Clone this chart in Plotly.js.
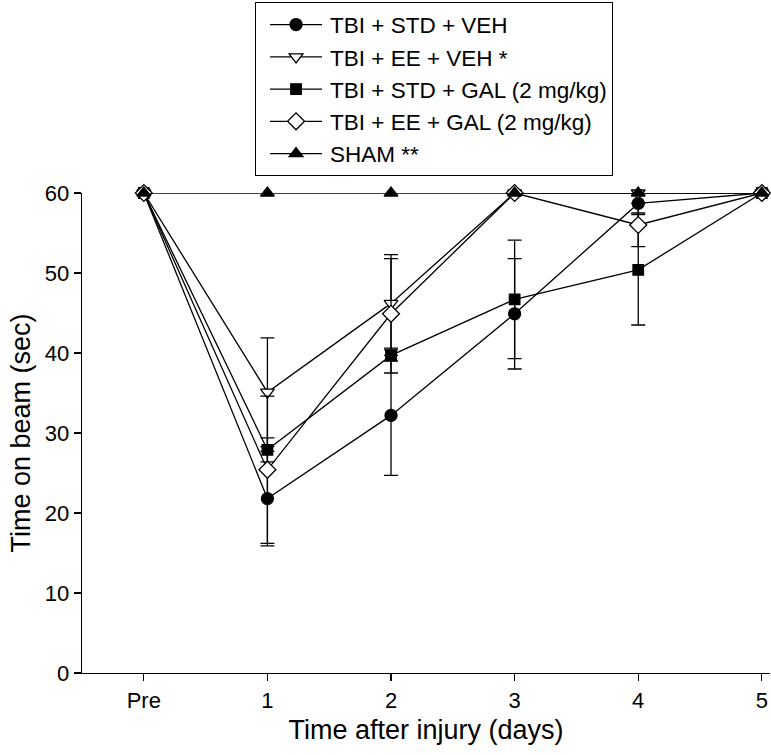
<!DOCTYPE html>
<html>
<head>
<meta charset="utf-8">
<script src="https://cdn.plot.ly/plotly-3.0.1.min.js"></script>
<style>html,body{margin:0;padding:0;background:#fff;}#chart{width:771px;height:755px;}</style>
</head>
<body>
<div id="chart"></div>
<script>
// Data
const days = ["Pre", "1", "2", "3", "4", "5"];

const stdVeh = [60, 21.8, 32.2, 44.9, 58.7, 60];
const stdVehErr = [null, 5.9, 7.5, 6.9, 1.2, null];

const eeVeh = [60, 35.1, 46.2, 60, 60, 60];
const eeVehErr = [null, 6.8, 5.6, null, null, null];

const stdGal = [60, 27.9, 39.7, 46.7, 50.4, 60];
const stdGalErr = [null, 1.5, 0.7, 7.4, 6.9, null];

const eeGal = [60, 25.4, 44.9, 60, 56.0, 60];
const eeGalErr = [null, 9.2, 7.4, null, 2.7, null];

const sham = [60, 60, 60, 60, 60, 60];

const seriesNames = [
  "TBI + STD + VEH",
  "TBI + EE + VEH *",
  "TBI + STD + GAL (2 mg/kg)",
  "TBI + EE + GAL (2 mg/kg)",
  "SHAM **"
];

const FONT = "Liberation Sans, Arial, Helvetica, sans-serif";

function mk(name, y, err, symbol, filled, size) {
  const t = {
    type: "scatter",
    mode: "lines+markers",
    name: name,
    x: days,
    y: y,
    cliponaxis: false,
    line: {color: "black", width: 1.3},
    marker: {
      symbol: symbol,
      size: size,
      color: filled ? "black" : "white",
      line: {color: "black", width: 1.3}
    }
  };
  if (err) {
    t.error_y = {type: "data", array: err, visible: true, color: "black", thickness: 1.3, width: 7};
  }
  return t;
}

const traces = [
  mk(seriesNames[0], stdVeh, stdVehErr, "circle", true, 12),
  mk(seriesNames[1], eeVeh, eeVehErr, "triangle-down", false, 12),
  mk(seriesNames[2], stdGal, stdGalErr, "square", true, 10.5),
  mk(seriesNames[3], eeGal, eeGalErr, "diamond", false, 13),
  mk(seriesNames[4], sham, null, "triangle-up", true, 12)
];

const layout = {
  width: 771,
  height: 755,
  margin: {l: 82, r: 1, t: 193, b: 82, pad: 0},
  paper_bgcolor: "white",
  plot_bgcolor: "white",
  showlegend: true,
  font: {family: FONT, color: "black", size: 22},
  xaxis: {
    type: "category",
    range: [-0.5, 5.066],
    showgrid: false,
    zeroline: false,
    showline: true,
    linecolor: "black",
    linewidth: 1.3,
    ticks: "outside",
    ticklen: 7,
    tickwidth: 1.3,
    tickcolor: "black",
    tickfont: {family: FONT, size: 22, color: "black"},
    title: {text: "Time after injury (days)", font: {family: FONT, size: 27, color: "black"}, standoff: 8}
  },
  yaxis: {
    range: [0, 60],
    tickvals: [0, 10, 20, 30, 40, 50, 60],
    showgrid: false,
    zeroline: false,
    showline: true,
    linecolor: "black",
    linewidth: 1.3,
    ticks: "outside",
    ticklen: 7,
    tickwidth: 1.3,
    tickcolor: "black",
    tickfont: {family: FONT, size: 22, color: "black"},
    title: {text: "Time on beam (sec)", font: {family: FONT, size: 27, color: "black"}, standoff: 6}
  },
  legend: {
    x: 0.2515,
    y: 1.397,
    xanchor: "left",
    yanchor: "top",
    bgcolor: "white",
    bordercolor: "black",
    borderwidth: 1,
    itemwidth: 64,
    font: {family: FONT, size: 22.5, color: "black"},
    tracegroupgap: 0
  }
};

Plotly.newPlot("chart", traces, layout, {staticPlot: true, displayModeBar: false}).then(function (gd) {
  // lengthen legend sample lines and centre the marker on them, like the reference key
  gd.querySelectorAll(".legend .legendlines path").forEach(function (p) {
    p.setAttribute("d", "M14,0h52");
  });
  gd.querySelectorAll(".legend .legendpoints").forEach(function (g) {
    g.setAttribute("transform", "translate(3,0)");
  });
});
</script>
</body>
</html>
